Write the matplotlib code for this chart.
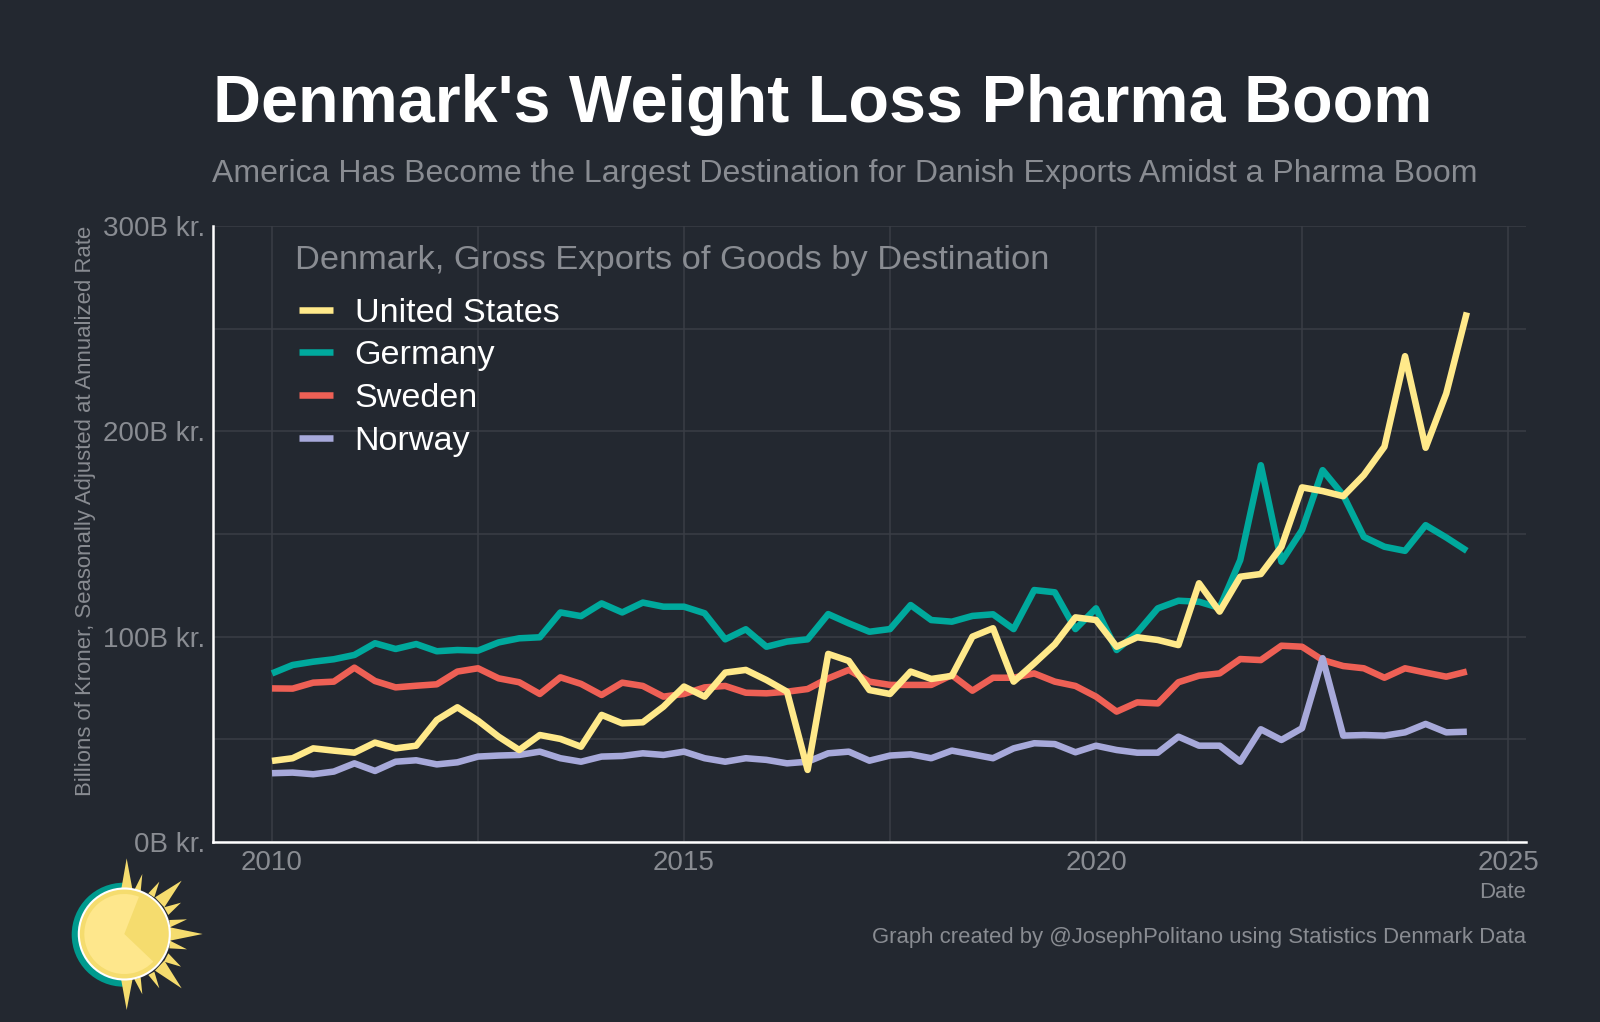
import matplotlib
matplotlib.use('Agg')
import matplotlib.pyplot as plt
from matplotlib.patches import Circle, Wedge, Polygon

#Quarterly dates, 2010 Q1 to 2024 Q3
quarters = [2010.0, 2010.25, 2010.5, 2010.75, 2011.0, 2011.25, 2011.5, 2011.75, 2012.0, 2012.25,
            2012.5, 2012.75, 2013.0, 2013.25, 2013.5, 2013.75, 2014.0, 2014.25, 2014.5, 2014.75,
            2015.0, 2015.25, 2015.5, 2015.75, 2016.0, 2016.25, 2016.5, 2016.75, 2017.0, 2017.25,
            2017.5, 2017.75, 2018.0, 2018.25, 2018.5, 2018.75, 2019.0, 2019.25, 2019.5, 2019.75,
            2020.0, 2020.25, 2020.5, 2020.75, 2021.0, 2021.25, 2021.5, 2021.75, 2022.0, 2022.25,
            2022.5, 2022.75, 2023.0, 2023.25, 2023.5, 2023.75, 2024.0, 2024.25, 2024.5]

#Exports in billions of kroner
united_states = [39.5, 40.8, 45.6, 44.5, 43.5, 48.4, 45.6, 46.9, 59.4, 65.6, 59.1, 51.3, 44.8, 52.1, 50.2,
                 46.4, 61.9, 57.8, 58.3, 65.9, 75.7, 70.8, 82.5, 83.8, 78.9, 73.2, 35.1, 91.6, 88.2, 74,
                 72.1, 83, 79.4, 80.9, 100, 104.1, 78.1, 87, 96.3, 109.4, 108.1, 95.1, 99.7, 98.4, 95.9,
                 126, 112.2, 129.2, 130.5, 143.8, 172.7, 170.9, 168.4, 178.7, 192.5, 236.6, 192, 218.4, 257.9]
germany = [82.1, 86.2, 87.8, 89, 91.1, 96.8, 94, 96.4, 92.9, 93.5, 93.2, 97.2, 99.2, 99.7, 111.8,
           110, 116.2, 111.8, 116.6, 114.6, 114.6, 111.4, 98.7, 103.6, 95.1, 97.6, 98.7, 111, 106.5, 102.4,
           103.7, 115.4, 108.1, 107.3, 110.1, 110.9, 103.7, 122.7, 121.6, 103.7, 113.8, 93.5, 102, 113.8, 117.5,
           117, 114, 137.3, 183.5, 136.5, 151.9, 181.1, 168.9, 148.6, 143.8, 141.8, 154.3, 148.3, 141.8]
sweden = [74.8, 74.7, 77.6, 78.1, 84.9, 78.4, 75.3, 76.1, 76.8, 83, 84.6, 79.7, 77.8, 72.1, 80.2,
          77, 71.6, 77.6, 76, 70.8, 72.1, 75.3, 76, 72.7, 72.4, 73.2, 74.5, 79.7, 83.8, 78.1,
          76.5, 76.5, 76.5, 81.3, 73.7, 80, 80, 82.1, 78.1, 76, 70.8, 63.5, 68, 67.5, 77.8,
          81, 82.1, 89.1, 88.6, 95.6, 95.1, 88.6, 85.7, 84.6, 80, 84.6, 82.5, 80.5, 83]
norway = [33.5, 33.8, 33, 34.3, 38.3, 34.6, 39.1, 39.8, 37.8, 38.8, 41.6, 42.1, 42.4, 44, 40.8,
          39.1, 41.6, 41.9, 43.2, 42.4, 44, 40.8, 39.1, 40.8, 40, 38.3, 39.1, 43.2, 44, 39.6,
          42.1, 42.7, 40.8, 44.5, 42.7, 40.8, 45.6, 48.1, 47.7, 43.7, 46.9, 44.8, 43.5, 43.5, 51.3,
          46.9, 46.9, 39.1, 54.9, 49.7, 55.4, 89.5, 51.8, 52.1, 51.8, 53.4, 57.5, 53.4, 53.7]

x_ticks = [2010, 2015, 2020, 2025]
x_minor = [2012.5, 2017.5, 2022.5]
y_ticks = [0, 100, 200, 300]
y_minor = [50, 150, 250]
y_labels = ['0B kr.', '100B kr.', '200B kr.', '300B kr.']

BG = '#232830'
GRAY = '#898C92'
GRID = '#3A3E46'
YELLOW = '#FFE98A'
TEAL = '#00A99D'
RED = '#EE6055'
PURPLE = '#A7A9DA'

plt.rcParams['font.family'] = ['Liberation Sans', 'DejaVu Sans']

fig = plt.figure(figsize=(16, 10.22), dpi=100, facecolor=BG)
ax = fig.add_axes([213 / 1600, 180 / 1022, 1313 / 1600, 616 / 1022], facecolor=BG)

#Lines, drawn in this order so yellow stays on top
for values, color, name, z in [(germany, TEAL, 'Germany', 3), (sweden, RED, 'Sweden', 4),
                               (norway, PURPLE, 'Norway', 5), (united_states, YELLOW, 'United States', 6)]:
    ax.plot(quarters, values, color=color, lw=4.7, label=name, zorder=z,
            solid_capstyle='butt', solid_joinstyle='round')

ax.set_xlim(2009.284, 2025.218)
ax.set_ylim(0, 300)
ax.set_xticks(x_ticks)
ax.set_xticks(x_minor, minor=True)
ax.set_yticks(y_ticks, y_labels)
ax.set_yticks(y_minor, minor=True)
ax.grid(True, which='both', color=GRID, lw=1.1)
ax.set_axisbelow(True)
ax.tick_params(which='both', length=0)
ax.tick_params(axis='x', labelsize=20, labelcolor=GRAY, pad=6)
ax.tick_params(axis='y', labelsize=20, labelcolor=GRAY, pad=6)
ax.spines['top'].set_visible(False)
ax.spines['right'].set_visible(False)
for side in ['left', 'bottom']:
    ax.spines[side].set_color('white')
    ax.spines[side].set_linewidth(1.8)

#Legend, in the order of the reference
handles, labels = ax.get_legend_handles_labels()
order = [3, 0, 1, 2]
leg = ax.legend([handles[i] for i in order], [labels[i] for i in order],
                loc='upper left', bbox_to_anchor=(86 / 1313, 1 - 71.5 / 616), frameon=False,
                fontsize=24.6, labelcolor='white',
                handlelength=1.0, handletextpad=0.63, labelspacing=0.345, borderaxespad=0, borderpad=0)

#Overlay in pixel coordinates for the texts and the logo
ov = fig.add_axes([0, 0, 1, 1], facecolor='none')
ov.set_xlim(0, 1600)
ov.set_ylim(1022, 0)
ov.axis('off')

ov.text(213, 105, "Denmark's Weight Loss Pharma Boom", color='white', fontsize=47.9, fontweight='bold', va='center')
ov.text(212, 174, 'America Has Become the Largest Destination for Danish Exports Amidst a Pharma Boom',
        color=GRAY, fontsize=23, va='center')
ov.text(295, 260, 'Denmark, Gross Exports of Goods by Destination', color=GRAY, fontsize=24.75, va='center')
ov.text(86, 511, 'Billions of Kroner, Seasonally Adjusted at Annualized Rate', color=GRAY, fontsize=15.9,
        rotation=90, ha='center', va='center')
ov.text(1526, 893, 'Date', color=GRAY, fontsize=15.9, ha='right', va='center')
ov.text(1526, 938, 'Graph created by @JosephPolitano using Statistics Denmark Data', color=GRAY, fontsize=15.9,
        ha='right', va='center')

#Logo: the sun
sx, sy = 124.3, 934
rays = [[(260, 115), (243, 212), (278, 212)], [(260, 570), (243, 476), (278, 476)],
        [(488, 342), (390, 322), (390, 362)], [(425, 182), (345, 232), (373, 262)],
        [(425, 505), (345, 452), (373, 422)], [(307, 162), (283, 210), (302, 215)],
        [(358, 185), (325, 220), (343, 232)], [(423, 248), (372, 262), (385, 285)],
        [(441, 298), (388, 300), (390, 322)], [(441, 388), (390, 362), (388, 385)],
        [(423, 440), (385, 400), (372, 425)], [(358, 505), (343, 455), (325, 465)],
        [(307, 523), (302, 472), (283, 478)]]
ov.add_patch(Wedge((123.7, 934.7), 52, 90, 270, color='#009A8E', lw=0))
for ray in rays:
    ov.add_patch(Polygon([(40 + px / 3, 820 + py / 3) for px, py in ray], color='#F5DC6E', lw=0))
ov.add_patch(Circle((sx, sy), 45.5, facecolor='#F5DC6E', edgecolor='white', lw=1.5))
#the y axis of the overlay is flipped, so angles run clockwise here
ov.add_patch(Wedge((sx, sy), 40, 43.6, 291.5, color='#FEE78C', lw=0))

fig.savefig('out.png', dpi=100, facecolor=BG)
